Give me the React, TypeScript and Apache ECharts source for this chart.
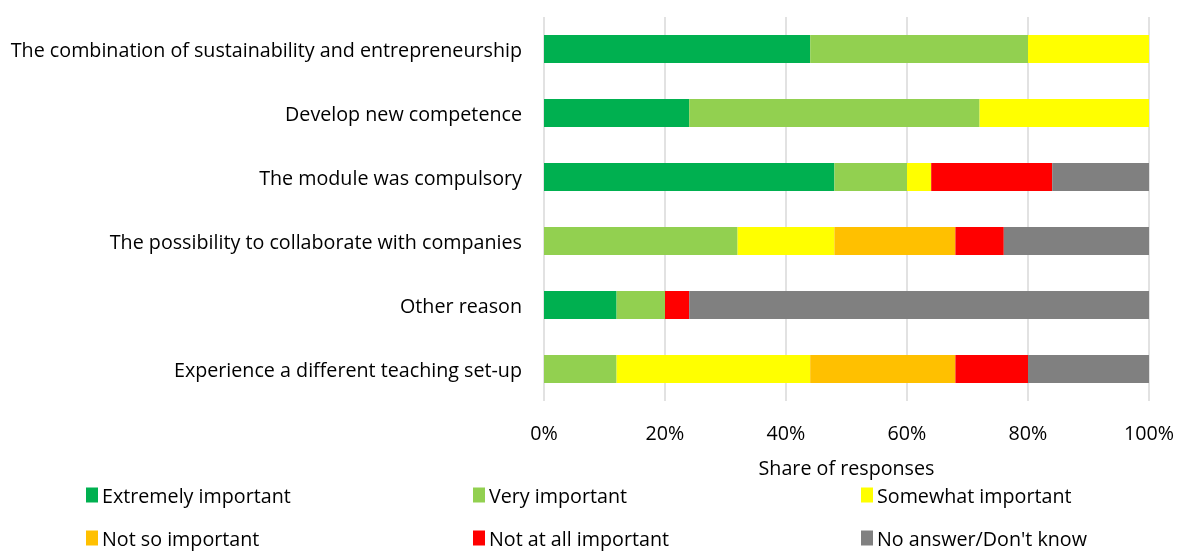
import React, { useEffect, useRef } from "react";
import * as echarts from "echarts";

const categories = [
  "The combination of sustainability and entrepreneurship",
  "Develop new competence",
  "The module was compulsory",
  "The possibility to collaborate with companies",
  "Other reason",
  "Experience a different teaching set-up",
];

const seriesNames = [
  "Extremely important",
  "Very important",
  "Somewhat important",
  "Not so important",
  "Not at all important",
  "No answer/Don't know",
];

const extremely = [44, 24, 48, 0, 12, 0];
const very = [36, 48, 12, 32, 8, 12];
const somewhat = [20, 28, 4, 16, 0, 32];
const notSo = [0, 0, 0, 20, 0, 24];
const notAtAll = [0, 0, 20, 8, 4, 12];
const noAnswer = [0, 0, 16, 24, 76, 20];

const xTicks = [0, 20, 40, 60, 80, 100];

const colors = ["#00B050", "#92D050", "#FFFF00", "#FFC000", "#FF0000", "#808080"];

const FONT = "Open Sans";
const FS = 19.7;

export default function App() {
  const ref = useRef<HTMLDivElement>(null);
  useEffect(() => {
    if (!ref.current) return;
    const chart = echarts.init(ref.current, null, { renderer: "svg" });
    const values = [extremely, very, somewhat, notSo, notAtAll, noAnswer];
    const legendPos = [
      { left: 86, top: 485 },
      { left: 473, top: 485 },
      { left: 861, top: 485 },
      { left: 86, top: 528 },
      { left: 473, top: 528 },
      { left: 861, top: 528 },
    ];
    chart.setOption({
      animation: false,
      grid: { left: 544, right: 30, top: 17, bottom: 150, containLabel: false },
      xAxis: {
        type: "value",
        min: 0,
        max: 100,
        interval: 20,
        name: "Share of responses",
        nameLocation: "middle",
        nameGap: 56,
        nameTextStyle: { fontFamily: FONT, fontSize: FS, color: "#000" },
        axisLabel: {
          fontFamily: FONT,
          fontSize: FS,
          color: "#000",
          margin: 21,
          formatter: (v: number) => (xTicks.includes(v) ? v + "%" : ""),
        },
        axisLine: { show: false },
        axisTick: { show: false },
        splitLine: { show: true, lineStyle: { color: "#d9d9d9", width: 1.5 } },
      },
      yAxis: {
        type: "category",
        data: categories,
        inverse: true,
        axisLine: { show: false },
        axisTick: { show: false },
        axisLabel: { fontFamily: FONT, fontSize: FS, color: "#000", margin: 22 },
      },
      legend: seriesNames.map((n, i) => ({
        data: [n],
        left: legendPos[i].left,
        top: legendPos[i].top,
        orient: "horizontal",
        icon: "rect",
        itemWidth: 12,
        itemHeight: 15,
        itemGap: 0,
        padding: 0,
        selectedMode: false,
        textStyle: { fontFamily: FONT, fontSize: FS, color: "#000", padding: [0, 0, 0, -1] },
      })),
      series: seriesNames.map((n, i) => ({
        name: n,
        type: "bar",
        stack: "total",
        barWidth: 28,
        data: values[i],
        itemStyle: { color: colors[i] },
      })),
    });
    return () => chart.dispose();
  }, []);
  return <div ref={ref} style={{ position: "fixed", left: 0, top: 0, width: 1179, height: 551 }} />;
}
